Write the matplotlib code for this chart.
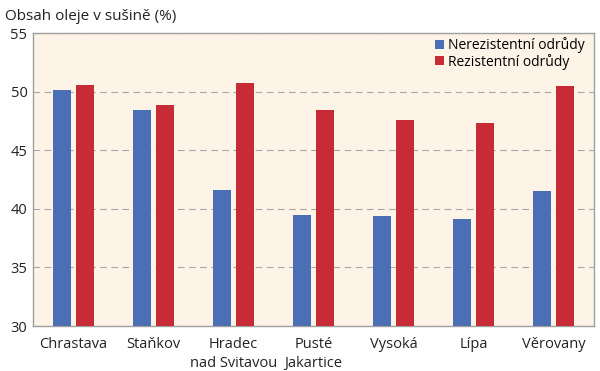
import matplotlib
matplotlib.use("Agg")
import matplotlib.pyplot as plt
import numpy as np

# Data
lokality = ["Chrastava", "Staňkov", "Hradec\nnad Svitavou", "Pusté\nJakartice",
            "Vysoká", "Lípa", "Věrovany"]
nerezistentni = [50.1, 48.4, 41.6, 39.5, 39.4, 39.1, 41.5]
rezistentni = [50.6, 48.9, 50.7, 48.4, 47.6, 47.3, 50.5]

plt.rcParams['font.family'] = ['Open Sans', 'DejaVu Sans']

fig = plt.figure(figsize=(6, 3.71), dpi=100)
ax = fig.add_axes([0.055, 0.121, 0.935, 0.79])
ax.set_facecolor("#fdf3e7")

x = np.arange(len(lokality))
w = 0.225
ax.bar(x - 0.144, nerezistentni, w, color="#4a6fb5", label="Nerezistentní odrůdy", zorder=3)
ax.bar(x + 0.144, rezistentni, w, color="#c72b36", label="Rezistentní odrůdy", zorder=3)

ax.set_ylim(30, 55)
ax.set_xlim(-0.5, len(lokality) - 0.5)
ax.set_yticks([30, 35, 40, 45, 50, 55])
ax.set_xticks(x)
ax.set_xticklabels(lokality, fontsize=10.5, color="#222222", linespacing=1.3)
ax.tick_params(axis="y", labelsize=10.5, colors="#222222", length=0, pad=4)
ax.tick_params(axis="x", length=0, pad=8)

ax.yaxis.grid(True, linestyle=(0, (6, 4)), color="#a8a8a8", linewidth=0.8, zorder=0)
for s in ax.spines.values():
    s.set_color("#a0a0a0")
    s.set_linewidth(1.0)

ax.legend(loc="upper right", bbox_to_anchor=(0.993, 1.005), frameon=False,
          fontsize=10, handlelength=0.6, handleheight=0.6, handletextpad=0.3,
          labelspacing=0.05, borderaxespad=0.0)

fig.text(0.008, 0.975, "Obsah oleje v sušině (%)", fontsize=11, va="top", color="#222222")

fig.savefig("out.png", dpi=100)
